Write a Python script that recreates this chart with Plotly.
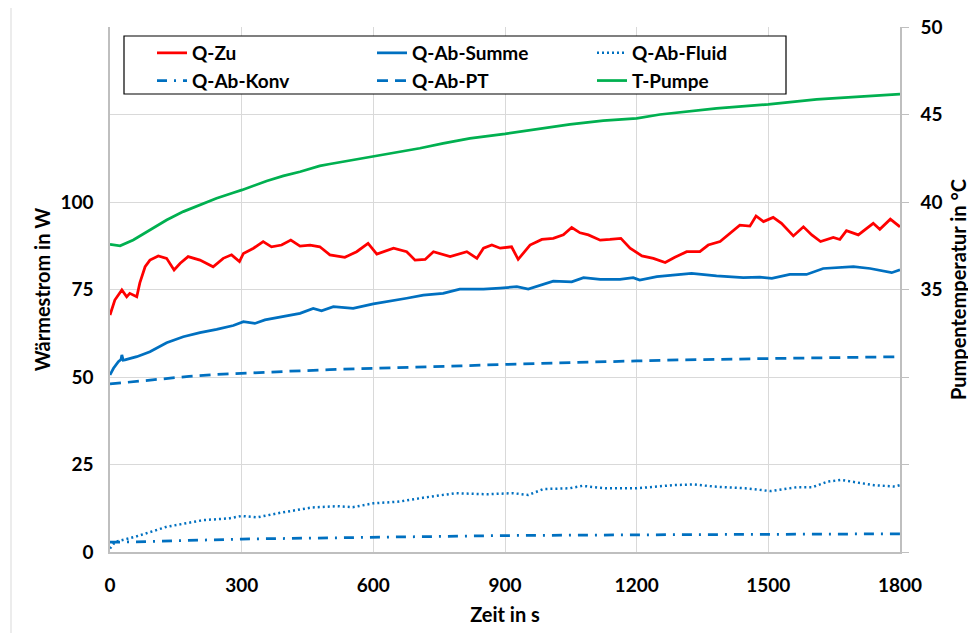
import plotly.graph_objects as go

# ---------------- data ----------------
t_zu = [0, 11, 27, 38, 45, 61, 68, 80, 91, 110, 129, 146, 160, 178, 205, 235, 258, 277, 295, 304,
        327, 349, 368, 391, 412, 433, 456, 478, 501, 535, 562, 588, 608, 646, 676, 695, 718, 737,
        775, 813, 836, 851, 870, 889, 915, 930, 957, 984, 1010, 1033, 1052, 1071, 1090, 1117,
        1139, 1164, 1185, 1212, 1238, 1265, 1287, 1314, 1344, 1363, 1390, 1412, 1435, 1458, 1472,
        1489, 1511, 1530, 1557, 1580, 1599, 1619, 1648, 1663, 1678, 1705, 1739, 1754, 1778, 1800]
q_zu = [67.7, 72.0, 74.9, 72.9, 73.9, 72.9, 76.9, 81.5, 83.4, 84.6, 83.9, 80.6, 82.5, 84.4, 83.4,
        81.5, 83.9, 84.9, 83.0, 85.3, 86.8, 88.7, 87.2, 87.7, 89.1, 87.4, 87.7, 87.2, 84.9, 84.2,
        85.8, 88.2, 85.1, 86.8, 85.8, 83.4, 83.6, 85.8, 84.4, 85.8, 83.9, 86.8, 87.7, 86.8, 87.2,
        83.6, 87.7, 89.3, 89.6, 90.6, 92.7, 91.2, 90.6, 89.1, 89.3, 89.6, 86.8, 84.6, 83.9, 82.7,
        84.2, 85.8, 85.8, 87.7, 88.7, 91.1, 93.4, 93.1, 96.0, 94.4, 95.6, 93.9, 90.3, 92.9, 90.6,
        88.7, 89.9, 89.3, 91.8, 90.6, 93.9, 92.2, 95.1, 92.9]

t_summe = [0, 8, 19, 25, 27, 30, 34, 61, 91, 129, 167, 205, 243, 281, 304, 330, 353, 395, 433, 463,
           482, 509, 554, 600, 630, 676, 714, 759, 797, 851, 889, 927, 953, 1010, 1052, 1079, 1117,
           1162, 1192, 1207, 1246, 1284, 1325, 1382, 1443, 1481, 1508, 1549, 1587, 1625, 1663,
           1694, 1732, 1754, 1781, 1800]
q_summe = [50.6, 52.5, 54.4, 55.0, 56.3, 54.8, 54.9, 55.8, 57.2, 59.8, 61.5, 62.7, 63.6, 64.7, 65.8,
           65.3, 66.3, 67.2, 68.2, 69.6, 68.9, 70.1, 69.6, 70.9, 71.5, 72.5, 73.4, 73.9, 75.1, 75.1,
           75.4, 75.8, 75.1, 77.4, 77.2, 78.4, 77.9, 77.9, 78.4, 77.7, 78.7, 79.1, 79.6, 78.9, 78.4,
           78.5, 78.2, 79.3, 79.3, 81.0, 81.3, 81.5, 81.0, 80.4, 79.8, 80.6]

t_fluid = [0, 12, 59, 129, 212, 271, 300, 335, 388, 459, 518, 553, 600, 659, 718, 788, 859, 918,
           953, 988, 1047, 1076, 1129, 1200, 1282, 1329, 1376, 1447, 1506, 1565, 1600, 1635, 1665,
           1694, 1741, 1788, 1800]
q_fluid = [1.0, 2.9, 4.4, 7.2, 9.1, 9.6, 10.3, 9.9, 11.2, 12.7, 13.1, 12.8, 13.9, 14.4, 15.6, 16.8,
           16.5, 16.8, 16.3, 18.0, 18.2, 18.9, 18.2, 18.2, 19.1, 19.3, 18.7, 18.2, 17.4, 18.5, 18.5,
           20.1, 20.6, 20.1, 19.1, 18.7, 19.1]

t_konv = [0, 60, 300, 600, 900, 1200, 1500, 1800]
q_konv = [2.8, 2.9, 3.7, 4.3, 4.7, 4.9, 5.0, 5.2]

t_pt = [0, 60, 120, 180, 240, 300, 400, 500, 600, 700, 800, 900, 1000, 1100, 1200, 1300, 1400,
        1500, 1600, 1700, 1800]
q_pt = [48.0, 48.8, 49.6, 50.2, 50.7, 51.1, 51.6, 52.1, 52.4, 52.8, 53.2, 53.6, 54.0, 54.3, 54.6,
        54.9, 55.1, 55.3, 55.5, 55.7, 55.8]

t_pumpe = [0, 23, 53, 91, 129, 167, 205, 243, 281, 301, 357, 395, 433, 478, 501, 600, 706, 759,
           820, 900, 972, 1048, 1124, 1200, 1253, 1382, 1500, 1610, 1709, 1800]
temp_pumpe = [37.58, 37.5, 37.83, 38.4, 38.97, 39.45, 39.83, 40.21, 40.53, 40.69, 41.2, 41.49,
              41.73, 42.06, 42.17, 42.59, 43.07, 43.35, 43.64, 43.89, 44.15, 44.44, 44.65, 44.78,
              45.0, 45.35, 45.58, 45.87, 46.02, 46.17]

left_ticks = [0, 25, 50, 75, 100, 125, 150]
left_labels = ["0", "25", "50", "75", "100", "", ""]
right_ticks = [20, 25, 30, 35, 40, 45, 50]
right_labels = ["", "", "", "35", "40", "45", "50"]
x_ticks = [0, 300, 600, 900, 1200, 1500, 1800]

# ---------------- styling ----------------
RED = "#FF0000"
BLUE = "#0070C0"
GREEN = "#00B050"
GRID = "#D9D9D9"
AXLINE = "#BFBFBF"
FONT = "Lato"

OFF = 8  # page body margin of the html output
W, H = 976 - OFF, 633 - OFF
L, T = 110 - OFF, 27 - OFF
R = W - (900 - OFF)
B = H - (552 - OFF)
pw, ph = W - L - R, H - T - B


def px_x(px):
    return (px - OFF - L) / pw


def px_y(py):
    return (H - B - (py - OFF)) / ph


fig = go.Figure()
fig.add_trace(go.Scatter(x=t_zu, y=q_zu, name="Q-Zu", mode="lines",
                         line=dict(color=RED, width=2.75)))
fig.add_trace(go.Scatter(x=t_summe, y=q_summe, name="Q-Ab-Summe", mode="lines",
                         line=dict(color=BLUE, width=2.75)))
fig.add_trace(go.Scatter(x=t_fluid, y=q_fluid, name="Q-Ab-Fluid", mode="lines",
                         line=dict(color=BLUE, width=2.5, dash="2px,3px")))
fig.add_trace(go.Scatter(x=t_konv, y=q_konv, name="Q-Ab-Konv", mode="lines",
                         line=dict(color=BLUE, width=2.75, dash="10px,7px,2px,7px")))
fig.add_trace(go.Scatter(x=t_pt, y=q_pt, name="Q-Ab-PT", mode="lines",
                         line=dict(color=BLUE, width=2.75, dash="11px,7px")))
fig.add_trace(go.Scatter(x=t_pumpe, y=temp_pumpe, name="T-Pumpe", mode="lines", yaxis="y2",
                         line=dict(color=GREEN, width=2.75)))

tickfont = dict(family=FONT, size=19, color="black", weight="bold")
titlefont = dict(family=FONT, size=20, color="black", weight="bold")

fig.update_layout(
    width=W, height=H,
    margin=dict(l=L, r=R, t=T, b=B, autoexpand=False),
    paper_bgcolor="white", plot_bgcolor="white",
    font=dict(family=FONT, color="black"),
    xaxis=dict(range=[0, 1800], tickvals=x_ticks, showgrid=True, gridcolor=GRID, gridwidth=1,
               showline=True, linecolor=AXLINE, linewidth=1.5, zeroline=False,
               ticks="outside", ticklen=15, tickcolor="rgba(0,0,0,0)",
               tickfont=tickfont,
               title=dict(text="Zeit in s", font=titlefont, standoff=13)),
    yaxis=dict(range=[0, 150], tickvals=left_ticks, ticktext=left_labels, showgrid=True,
               gridcolor=GRID, gridwidth=1, showline=True, linecolor=AXLINE, linewidth=1.5,
               zeroline=False, ticks="", tickfont=tickfont, ticklabelstandoff=11,
               title=dict(text="Wärmestrom in W", font=titlefont, standoff=4)),
    yaxis2=dict(range=[20, 50], overlaying="y", side="right", tickvals=right_ticks,
                ticktext=right_labels, showgrid=False, showline=True, linecolor=AXLINE,
                linewidth=1.5, zeroline=False, ticks="outside", ticklen=7, tickcolor=AXLINE,
                tickwidth=1, tickfont=tickfont, ticklabelstandoff=8,
                title=dict(text="Pumpentemperatur in °C", font=titlefont, standoff=10)),
    legend=dict(orientation="h", x=px_x(152), y=px_y(34), xanchor="left", yanchor="top",
                entrywidth=175, entrywidthmode="pixels", bgcolor="rgba(0,0,0,0)",
                borderwidth=0, font=dict(family=FONT, size=19, color="black", weight="bold"),
                tracegroupgap=0),
    showlegend=True,
    shapes=[
        dict(type="rect", xref="paper", yref="paper", x0=px_x(124), x1=px_x(786),
             y0=px_y(94), y1=px_y(36), line=dict(color="black", width=1.2),
             fillcolor="white", layer="above"),
        dict(type="rect", xref="paper", yref="paper", x0=px_x(11), x1=px_x(990),
             y0=px_y(650), y1=px_y(7), line=dict(color=GRID, width=1),
             fillcolor="rgba(0,0,0,0)", layer="below"),
    ],
)

fig.write_html("out.html")
